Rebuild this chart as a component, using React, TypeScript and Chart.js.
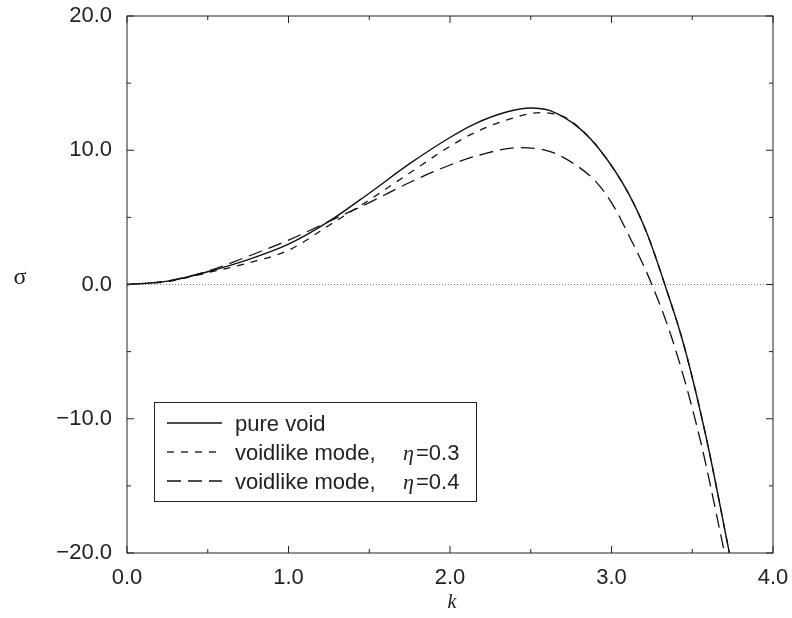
import React, { useEffect, useRef } from 'react';
import { Chart, registerables } from 'chart.js';
Chart.register(...registerables);

// k values and growth rates sigma
const kPure = [0, 0.25, 0.5, 0.75, 1.0, 1.25, 1.5, 1.75, 2.0, 2.15, 2.35, 2.5, 2.62, 2.8, 2.93, 3.1, 3.22, 3.33, 3.45, 3.59, 3.73];
const sigmaPure = [0, 0.25, 0.95, 1.85, 3.0, 4.7, 6.8, 9.0, 10.95, 11.95, 12.85, 13.15, 12.95, 11.65, 10.0, 6.9, 3.8, 0, -4.6, -11.6, -20];

const kEta03 = [0, 0.25, 0.5, 0.75, 1.0, 1.25, 1.5, 1.75, 2.0, 2.15, 2.35, 2.56, 2.72, 2.83, 2.93, 3.1, 3.22, 3.33, 3.45, 3.59, 3.73];
const sigmaEta03 = [0, 0.22, 0.88, 1.6, 2.55, 4.4, 6.3, 8.3, 10.3, 11.3, 12.25, 12.8, 12.4, 11.35, 10.0, 6.9, 3.8, 0, -4.6, -11.6, -20];

const kEta04 = [0, 0.25, 0.5, 0.75, 1.0, 1.25, 1.5, 1.75, 2.0, 2.2, 2.43, 2.62, 2.76, 2.9, 3.0, 3.11, 3.25, 3.39, 3.55, 3.7];
const sigmaEta04 = [0, 0.26, 1.0, 2.1, 3.3, 4.7, 6.1, 7.6, 8.9, 9.7, 10.2, 9.9, 9.05, 7.7, 6.1, 3.6, 0, -4.6, -11.6, -20];

const zeroK = [0, 4];
const zeroSigma = [0, 0];

const xTicks = [0, 1, 2, 3, 4];
const xMinorTicks = [0.5, 1.5, 2.5, 3.5];
const yTicks = [-20, -10, 0, 10, 20];
const yMinorTicks = [-15, -5, 5, 15];

const legendLabels = ['pure void', 'voidlike mode,', 'voidlike mode,'];
const legendEta = ['', '0.3', '0.4'];

const pts = (xs: number[], ys: number[]) => xs.map((x, i) => ({ x, y: ys[i] }));
const fmt = (v: number) => v.toFixed(1).replace('-', '\u2212');

const SANS = '"Liberation Sans", Arial, Helvetica, sans-serif';
const SERIF = '"Liberation Serif", "Times New Roman", serif';

export default function App() {
  const ref = useRef<HTMLCanvasElement | null>(null);
  useEffect(() => {
    const canvas = ref.current!;
    const framePlugin = {
      id: 'frame',
      afterDraw(chart: any) {
        const ctx = chart.ctx as CanvasRenderingContext2D;
        const { left, right, top, bottom } = chart.chartArea;
        const xs = chart.scales.x;
        const ys = chart.scales.y;
        ctx.save();
        ctx.strokeStyle = '#222';
        ctx.lineWidth = 1;
        ctx.setLineDash([]);
        ctx.strokeRect(left, top, right - left, bottom - top);
        const tick = (x1: number, y1: number, x2: number, y2: number) => {
          ctx.beginPath();
          ctx.moveTo(x1, y1);
          ctx.lineTo(x2, y2);
          ctx.stroke();
        };
        xTicks.forEach((v) => { const p = xs.getPixelForValue(v); tick(p, bottom, p, bottom - 7); tick(p, top, p, top + 7); });
        xMinorTicks.forEach((v) => { const p = xs.getPixelForValue(v); tick(p, bottom, p, bottom - 4); tick(p, top, p, top + 4); });
        yTicks.forEach((v) => { const p = ys.getPixelForValue(v); tick(left, p, left + 7, p); tick(right, p, right - 7, p); });
        yMinorTicks.forEach((v) => { const p = ys.getPixelForValue(v); tick(left, p, left + 4, p); tick(right, p, right - 4, p); });

        ctx.fillStyle = '#222';
        ctx.textAlign = 'center';
        ctx.textBaseline = 'middle';
        ctx.font = `italic 20px ${SERIF}`;
        ctx.fillText('k', 452, 603);
        ctx.font = `24px ${SERIF}`;
        ctx.fillText('\u03C3', 20, 278);

        ctx.strokeStyle = '#222';
        ctx.lineWidth = 1;
        ctx.strokeRect(154.5, 402.5, 322, 99);
        const lineY = [423, 452, 481];
        const baseY = [431, 460, 489];
        const dashes = [[], [7, 7], [14, 7]];
        for (let i = 0; i < 3; i++) {
          ctx.strokeStyle = '#111';
          ctx.lineWidth = 1.3;
          ctx.setLineDash(dashes[i]);
          ctx.beginPath();
          ctx.moveTo(167, lineY[i]);
          ctx.lineTo(222, lineY[i]);
          ctx.stroke();
          ctx.setLineDash([]);
          ctx.textAlign = 'left';
          ctx.textBaseline = 'alphabetic';
          ctx.fillStyle = '#222';
          ctx.font = `22px ${SANS}`;
          ctx.fillText(legendLabels[i], 235, baseY[i]);
          if (legendEta[i]) {
            ctx.font = `italic 22px ${SERIF}`;
            ctx.fillText('\u03B7', 403, baseY[i]);
            ctx.font = `22px ${SANS}`;
            ctx.fillText('=' + legendEta[i], 416, baseY[i]);
          }
        }
        ctx.restore();
      },
    };

    const common = { pointRadius: 0, borderColor: '#111', fill: false, cubicInterpolationMode: 'monotone' as const };
    const chart = new Chart(canvas, {
      type: 'line',
      data: {
        datasets: [
          { ...common, label: 'pure void', data: pts(kPure, sigmaPure), borderWidth: 1.4 },
          { ...common, label: 'eta 0.3', data: pts(kEta03, sigmaEta03), borderWidth: 1.3, borderDash: [7, 7] },
          { ...common, label: 'eta 0.4', data: pts(kEta04, sigmaEta04), borderWidth: 1.3, borderDash: [14, 7] },
          { label: 'zero', data: pts(zeroK, zeroSigma), pointRadius: 0, borderColor: '#777', borderWidth: 1, borderDash: [1, 2], fill: false },
        ],
      },
      options: {
        responsive: false,
        animation: false,
        layout: { padding: { left: 0, right: 19, top: 16, bottom: 0 } },
        plugins: { legend: { display: false }, tooltip: { enabled: false } },
        scales: {
          x: {
            type: 'linear',
            min: 0,
            max: 4,
            grid: { display: false, drawTicks: false },
            border: { display: false },
            afterBuildTicks: (s: any) => { s.ticks = xTicks.map((v) => ({ value: v })); },
            afterFit: (s: any) => { s.height = 65; s.paddingLeft = 0; s.paddingRight = 0; s.paddingTop = 0; s.paddingBottom = 0; },
            ticks: { padding: 12, color: '#222', font: { family: SANS, size: 22 }, callback: (v: any) => fmt(Number(v)), maxRotation: 0 },
          },
          y: {
            type: 'linear',
            min: -20,
            max: 20,
            grid: { display: false, drawTicks: false },
            border: { display: false },
            afterBuildTicks: (s: any) => { s.ticks = yTicks.map((v) => ({ value: v })); },
            afterFit: (s: any) => { s.width = 127; s.paddingLeft = 0; s.paddingRight = 0; s.paddingTop = 0; s.paddingBottom = 0; },
            ticks: { padding: 15, color: '#222', font: { family: SANS, size: 22 }, callback: (v: any) => fmt(Number(v)) },
          },
        },
      },
      plugins: [framePlugin],
    });
    return () => chart.destroy();
  }, []);

  return (
    <div style={{ position: 'absolute', left: 0, top: 0, width: 792, height: 618, background: '#fff' }}>
      <canvas ref={ref} width={792} height={618} style={{ display: 'block', width: 792, height: 618 }} />
    </div>
  );
}
